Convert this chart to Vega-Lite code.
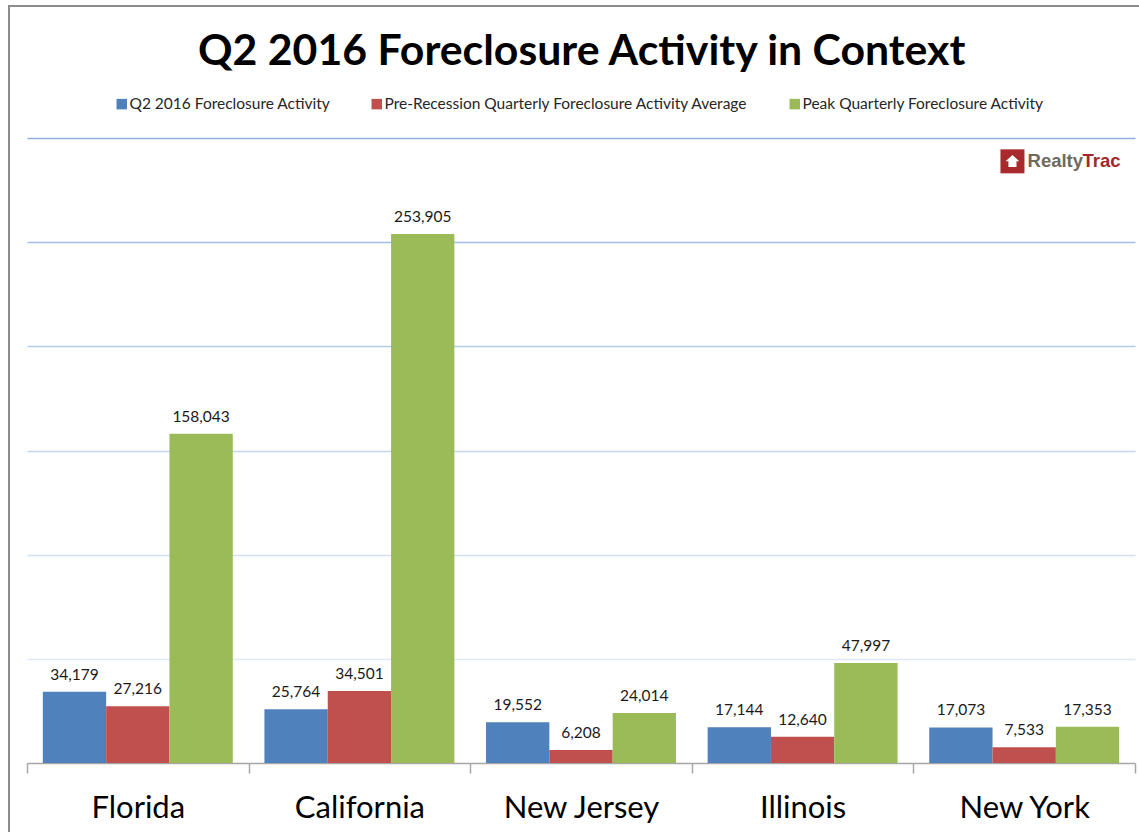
{
"$schema":"https://vega.github.io/schema/vega-lite/v6.json",
"width":1132,"height":828,
"autosize":{"type":"none"},
"padding":{"left":9,"top":6,"right":-2,"bottom":-2},
"background":"white",
"config":{"view":{"stroke":"#8c8c8c","strokeWidth":2},"font":"Lato"},
"title":{"text":"Q2 2016 Foreclosure Activity in Context","font":"Lato","fontWeight":"bold","fontSize":42.8,"color":"#000000","anchor":"start","frame":"group","dx":189,"dy":-2,"offset":-70,"baseline":"top"},
"datasets":{
"bars":[
{"state":"Florida","series":"Q2 2016 Foreclosure Activity","value":34179},
{"state":"Florida","series":"Pre-Recession Quarterly Foreclosure Activity Average","value":27216},
{"state":"Florida","series":"Peak Quarterly Foreclosure Activity","value":158043},
{"state":"California","series":"Q2 2016 Foreclosure Activity","value":25764},
{"state":"California","series":"Pre-Recession Quarterly Foreclosure Activity Average","value":34501},
{"state":"California","series":"Peak Quarterly Foreclosure Activity","value":253905},
{"state":"New Jersey","series":"Q2 2016 Foreclosure Activity","value":19552},
{"state":"New Jersey","series":"Pre-Recession Quarterly Foreclosure Activity Average","value":6208},
{"state":"New Jersey","series":"Peak Quarterly Foreclosure Activity","value":24014},
{"state":"Illinois","series":"Q2 2016 Foreclosure Activity","value":17144},
{"state":"Illinois","series":"Pre-Recession Quarterly Foreclosure Activity Average","value":12640},
{"state":"Illinois","series":"Peak Quarterly Foreclosure Activity","value":47997},
{"state":"New York","series":"Q2 2016 Foreclosure Activity","value":17073},
{"state":"New York","series":"Pre-Recession Quarterly Foreclosure Activity Average","value":7533},
{"state":"New York","series":"Peak Quarterly Foreclosure Activity","value":17353}
]},
"encoding":{
"x":{"field":"state","type":"nominal","sort":["Florida","California","New Jersey","Illinois","New York"],
 "scale":{"range":[18,1126],"paddingInner":0,"paddingOuter":0},
 "axis":{"title":null,"orient":"bottom","offset":-71,"labelAngle":0,"labelFontSize":31,"labelColor":"#000000","labelFont":"Lato","labelPadding":20,"domainColor":"#a6a6a6","domainWidth":1.5,"tickColor":"#a6a6a6","tickWidth":1.5,"tickSize":10,"tickBand":"extent","grid":false}},
"y":{"field":"value","type":"quantitative","scale":{"domain":[0,300000],"range":[757,132],"nice":false},
 "axis":{"title":null,"orient":"left","labels":false,"ticks":false,"domain":false,"values":[50000,100000,150000,200000,250000,300000],"grid":true,"gridWidth":1.5,
 "gridColor":{"condition":[{"test":"datum.value>=300000","value":"#8eb0e0"},{"test":"datum.value>=250000","value":"#a3bfe6"},{"test":"datum.value>=200000","value":"#b4cbea"},{"test":"datum.value>=150000","value":"#c5d6ef"},{"test":"datum.value>=100000","value":"#d3e0f3"}],"value":"#e0e8f6"}}}
},
"layer":[
{"data":{"name":"bars"},"mark":{"type":"bar"},
 "encoding":{
 "xOffset":{"field":"series","sort":null,"scale":{"paddingInner":0,"paddingOuter":0.25}},
 "color":{"field":"series","sort":null,"scale":{"domain":["Q2 2016 Foreclosure Activity","Pre-Recession Quarterly Foreclosure Activity Average","Peak Quarterly Foreclosure Activity"],"range":["#4f81bd","#c0504d","#9bbb59"]},
 "legend":{"title":null,"orient":"none","legendX":105,"legendY":90,"direction":"horizontal","columns":3,"symbolType":"square","symbolSize":110,"symbolStrokeWidth":0,"labelFontSize":15.5,"labelFont":"Lato","labelColor":"#262626","labelLimit":500,"columnPadding":38,"labelOffset":0}}
 }},
{"data":{"name":"bars"},"mark":{"type":"text","baseline":"bottom","dy":-9,"fontSize":15.5,"color":"#1a1a1a","font":"Lato"},
 "encoding":{"xOffset":{"field":"series","sort":null},"text":{"field":"value","type":"quantitative","format":","}}},
{"data":{"values":[{"state":"New York","value":288800}]},"mark":{"type":"point","shape":"square","filled":true,"color":"#a82a2c","size":576,"opacity":1},
 "encoding":{"x":{"field":"state","type":"nominal","bandPosition":0.447}}},
{"data":{"values":[{"state":"New York","value":288800}]},"mark":{"type":"point","shape":"M0,-0.8 L0.85,0 L0.5,0 L0.5,0.7 L-0.5,0.7 L-0.5,0 L-0.85,0 Z","filled":true,"color":"#ffffff","size":260,"opacity":1},
 "encoding":{"x":{"field":"state","type":"nominal","bandPosition":0.447}}},
{"data":{"values":[{"state":"New York","value":288800,"label":"Realty"}]},"mark":{"type":"text","align":"left","baseline":"middle","font":"Liberation Sans","fontWeight":"bold","fontSize":18.5,"color":"#6e6a5e"},
 "encoding":{"x":{"field":"state","type":"nominal","bandPosition":0.515},"text":{"field":"label"}}},
{"data":{"values":[{"state":"New York","value":288800,"label":"Trac"}]},"mark":{"type":"text","align":"left","baseline":"middle","font":"Liberation Sans","fontWeight":"bold","fontSize":18.5,"color":"#a4282a"},
 "encoding":{"x":{"field":"state","type":"nominal","bandPosition":0.763},"text":{"field":"label"}}}
]
}
